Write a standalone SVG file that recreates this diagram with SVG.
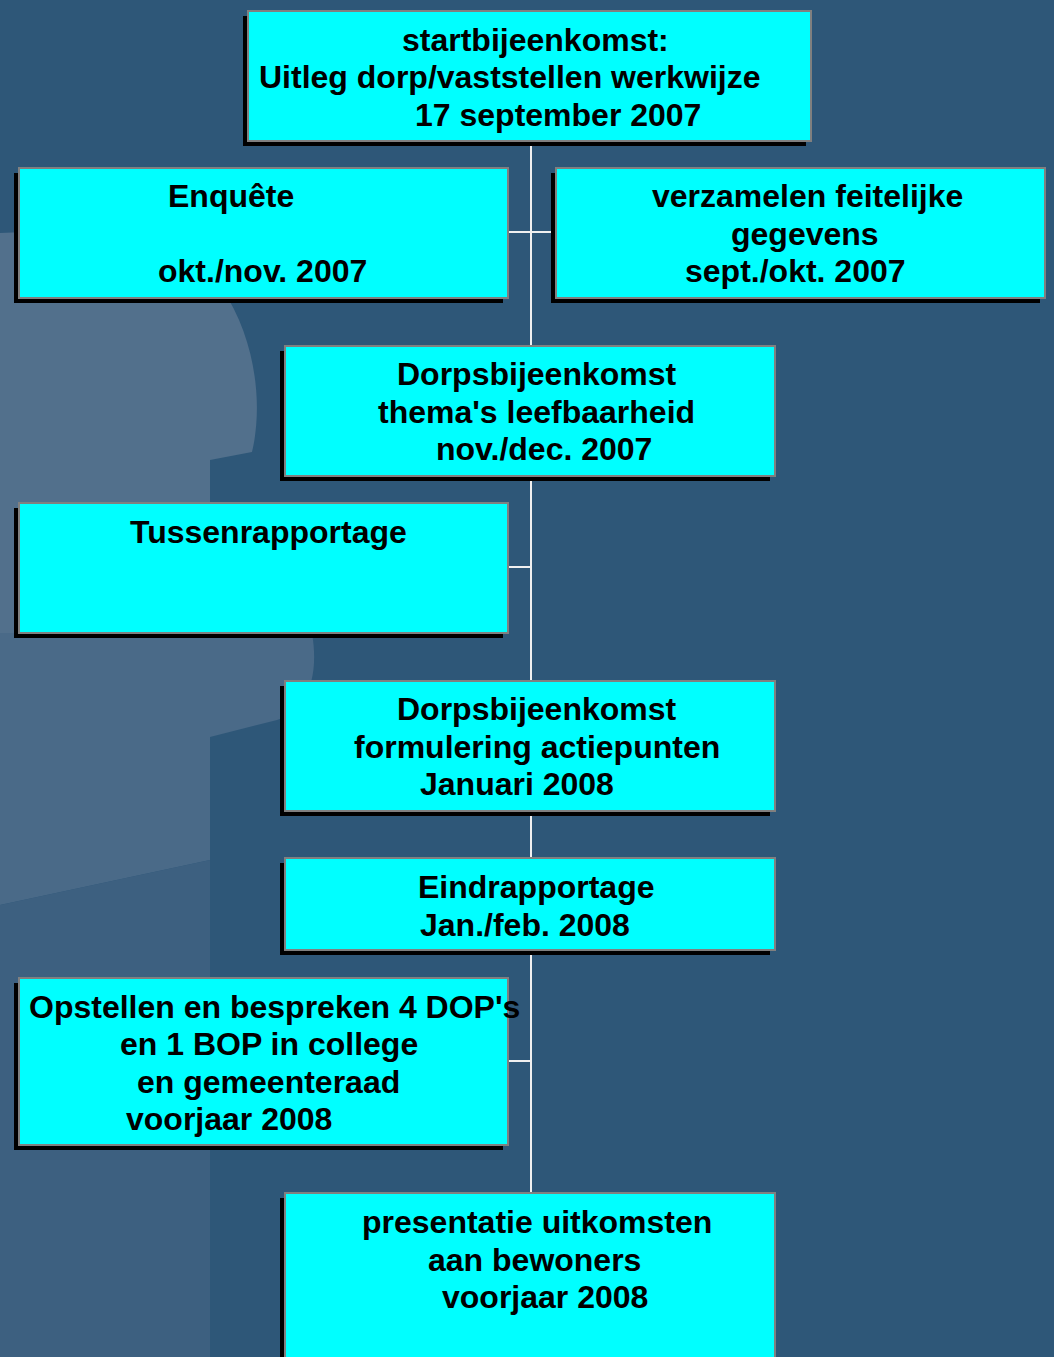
<svg xmlns="http://www.w3.org/2000/svg" width="1054" height="1357" viewBox="0 0 1054 1357">
<style>
.box{fill:#00FFFF;stroke:#808080;stroke-width:2}
.sh{fill:#000}
.t{font-family:"Liberation Sans",Arial,sans-serif;font-weight:bold;font-size:32px;fill:#000}
.c{stroke:#F0F0F0;stroke-width:2;fill:none}
</style>
<rect width="1054" height="1357" fill="#2E5778"/>
<path d="M0,233 C90,228 190,250 228,298 C258,350 262,410 252,452 L210,460 L210,640 L0,640 Z" fill="#52708C"/>
<path d="M0,633 L312,633 C320,680 305,712 277,720 L210,737 L210,860 L0,905 Z" fill="#4A6A88"/>
<path d="M0,905 L210,860 L210,1357 L0,1357 Z" fill="#3D6080"/>
<g id="connectors">
<path class="c" d="M531,141 V1193"/>
<path class="c" d="M508,232 H557"/>
<path class="c" d="M508,567 H531"/>
<path class="c" d="M508,1061 H531"/>
</g>
<g id="start">
<rect class="sh" x="243" y="16" width="563" height="130"/>
<rect class="box" x="248" y="11" width="563" height="130"/>
<text class="t" x="402" y="51">startbijeenkomst:</text>
<text class="t" x="259" y="88">Uitleg dorp/vaststellen werkwijze</text>
<text class="t" x="415" y="126">17 september 2007</text>
</g>
<g id="enquete">
<rect class="sh" x="14" y="173" width="489" height="130"/>
<rect class="box" x="19" y="168" width="489" height="130"/>
<text class="t" x="168" y="207">Enquête</text>
<text class="t" x="158" y="282">okt./nov. 2007</text>
</g>
<g id="verzamelen">
<rect class="sh" x="551" y="173" width="489" height="130"/>
<rect class="box" x="556" y="168" width="489" height="130"/>
<text class="t" x="652" y="207">verzamelen feitelijke</text>
<text class="t" x="731" y="245">gegevens</text>
<text class="t" x="685" y="282">sept./okt. 2007</text>
</g>
<g id="dorps1">
<rect class="sh" x="280" y="351" width="490" height="130"/>
<rect class="box" x="285" y="346" width="490" height="130"/>
<text class="t" x="397" y="385">Dorpsbijeenkomst</text>
<text class="t" x="378" y="423">thema's leefbaarheid</text>
<text class="t" x="436" y="460">nov./dec. 2007</text>
</g>
<g id="tussen">
<rect class="sh" x="14" y="508" width="489" height="130"/>
<rect class="box" x="19" y="503" width="489" height="130"/>
<text class="t" x="130" y="543">Tussenrapportage</text>
</g>
<g id="dorps2">
<rect class="sh" x="280" y="686" width="490" height="130"/>
<rect class="box" x="285" y="681" width="490" height="130"/>
<text class="t" x="397" y="720">Dorpsbijeenkomst</text>
<text class="t" x="354" y="758">formulering actiepunten</text>
<text class="t" x="420" y="795">Januari 2008</text>
</g>
<g id="eind">
<rect class="sh" x="280" y="863" width="490" height="92"/>
<rect class="box" x="285" y="858" width="490" height="92"/>
<text class="t" x="418" y="898">Eindrapportage</text>
<text class="t" x="420" y="936">Jan./feb. 2008</text>
</g>
<g id="opstellen">
<rect class="sh" x="14" y="983" width="489" height="167"/>
<rect class="box" x="19" y="978" width="489" height="167"/>
<text class="t" x="29" y="1018">Opstellen en bespreken 4 DOP's</text>
<text class="t" x="120" y="1055">en 1 BOP in college</text>
<text class="t" x="137" y="1093">en gemeenteraad</text>
<text class="t" x="126" y="1130">voorjaar 2008</text>
</g>
<g id="presentatie">
<rect class="sh" x="280" y="1198" width="490" height="170"/>
<rect class="box" x="285" y="1193" width="490" height="175"/>
<text class="t" x="362" y="1233">presentatie uitkomsten</text>
<text class="t" x="428" y="1271">aan bewoners</text>
<text class="t" x="442" y="1308">voorjaar 2008</text>
</g>
</svg>
